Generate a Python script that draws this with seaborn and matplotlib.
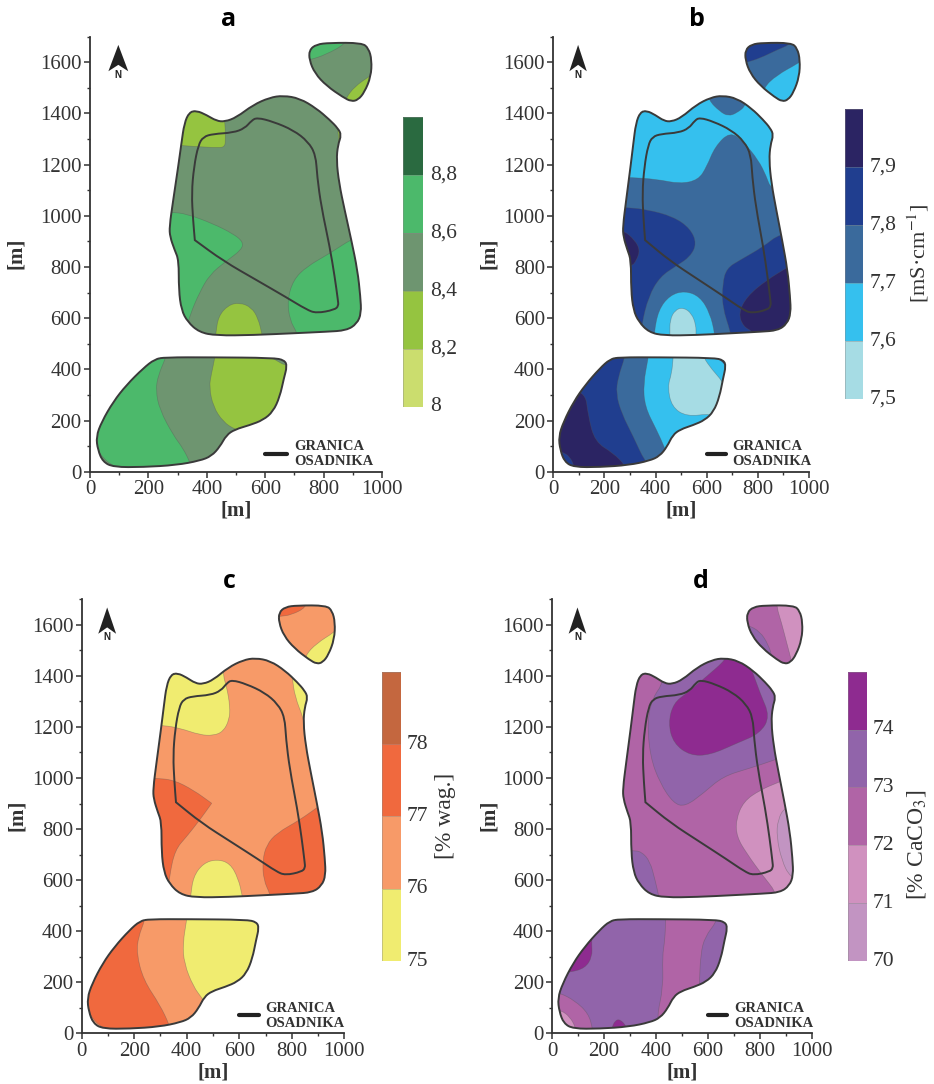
import numpy as np
import matplotlib
matplotlib.use('Agg')
import matplotlib.pyplot as plt
import seaborn as sns
from matplotlib.colors import ListedColormap
from matplotlib.patches import PathPatch
from matplotlib.path import Path
from matplotlib.ticker import MultipleLocator

# granice zbiornikow [m]
MAIN = [(365,1411),(399,1394),(433,1371),(462,1368),(502,1385),(558,1433),(615,1462),(661,1470),(718,1459),(775,1420),
        (821,1375),(849,1342),(861,1316),(849,1277),(844,1218),(853,1127),(872,1023),(895,905),(916,788),(926,684),
        (929,619),(914,578),(878,552),(810,547),(696,541),(559,534),(433,532),(374,545),(334,586),(313,632),
        (304,710),(304,827),(290,866),(274,918),(272,958),(285,1062),(302,1192),(313,1283),(323,1362),(340,1405)]
LOWER = [(257,447),(411,447),(627,445),(666,436),(675,413),(664,365),(650,293),(627,235),(593,202),(547,182),
         (496,165),(467,143),(445,98),(416,61),(376,43),(296,26),(182,18),(80,18),(44,39),(27,85),
         (21,137),(40,195),(80,274),(125,339),(182,404),(222,440)]
UPPER = [(751,1648),(775,1670),(821,1676),(931,1676),(954,1655),(965,1609),(962,1544),(940,1483),(918,1453),(895,1447),
         (867,1463),(810,1508),(770,1557),(751,1609)]
POND = [(359,905),(359,905),(353,984),(348,1088),(356,1192),(371,1277),(388,1309),(422,1320),(490,1325),(530,1342),
        (553,1372),(572,1384),(627,1368),(696,1335),(747,1290),(773,1238),(778,1153),(792,1036),(821,879),(838,762),
        (849,671),(851,648),(838,633),(775,619),(741,634),(673,681),(570,749),(456,824)]
NORTH = [(97,1668),(131,1565),(97,1590),(63,1565)]

# a - pH
LEVELS_A = ['8', '8,2', '8,4', '8,6', '8,8']
COLORS_A = ['#CBDD6E', '#95C440', '#6E9570', '#4CB96B', '#2A6A40']
A_LOBE = [(260,1279),(370,1270),(440,1266),(462,1270),(464,1300),(462,1380),(440,1460),(260,1460)]
A_LEFT = [(240,1015),(279,1014),(330,1008),(420,970),(490,930),(524,899),(520,868),(464,821),(410,770),(375,700),(345,620),(330,560),(230,560),(220,800)]
A_RIGHT = [(895,909),(821,853),(741,801),(696,749),(676,671),(684,593),(709,543),(720,500),(990,500),(990,960)]
A_BOTTOM = [(431,538),(439,606),(473,651),(513,661),(553,642),(576,599),(589,538),(595,500),(425,500)]
A_SLIVER = [(846,1345),(852,1310),(850,1270),(880,1270),(880,1345)]
A_UP_TOP = [(753,1609),(810,1631),(878,1674),(878,1710),(720,1710),(720,1605)]
A_UP_BOT = [(876,1459),(906,1505),(958,1546),(990,1570),(990,1430),(870,1430)]
A_LO_LEFT = [(260,447),(234,378),(225,319),(239,241),(285,143),(319,91),(344,33),(350,0),(0,0),(0,460),(262,470)]
A_LO_RIGHT = [(428,470),(428,447),(416,384),(408,332),(422,254),(456,195),(496,165),(560,140),(700,150),(720,430),(673,411),(633,439),(616,446),(616,470)]

# b - przewodnosc
LEVELS_B = ['7,5', '7,6', '7,7', '7,8', '7,9']
COLORS_B = ['#A6DCE4', '#35C0EE', '#3A6A9C', '#203E8F', '#2B2463']
B_CYAN = [(260,1150),(302,1150),(404,1143),(495,1125),(567,1140),(600,1192),(632,1270),(691,1329),(743,1290),(802,1218),(834,1153),(850,1107),(900,1100),(900,1500),(260,1500)]
B_TOP = [(606,1453),(652,1407),(684,1390),(717,1401),(756,1433),(756,1500),(606,1500)]
B_LEFT = [(240,1033),(280,1033),(365,1025),(469,997),(535,951),(561,892),(535,840),(482,805),(417,762),(372,684),(345,573),(340,500),(240,500)]
B_LEFT2 = [(240,942),(276,942),(319,905),(339,866),(326,827),(306,801),(240,800)]
B_MID = [(394,541),(411,632),(456,690),(515,707),(574,684),(613,619),(632,538),(632,500),(394,500)]
B_MID2 = [(456,538),(456,593),(476,632),(508,642),(541,619),(558,573),(558,534),(558,500),(456,500)]
B_RIGHT = [(887,932),(821,879),(730,827),(678,795),(662,736),(661,645),(694,543),(700,500),(990,500),(990,932)]
B_RIGHT2 = [(918,799),(834,749),(756,684),(724,619),(743,567),(782,547),(790,500),(990,500),(990,850)]
B_UP_TOP = [(754,1599),(808,1616),(874,1648),(932,1672),(932,1710),(720,1710),(720,1590)]
B_UP_BOT = [(819,1498),(874,1550),(958,1596),(990,1620),(990,1430),(819,1430)]
B_LO_DARK = [(124,319),(137,215),(163,117),(235,72),(280,26),(290,0),(0,0),(0,319)]
B_LO_SMALL = [(33,78),(65,59),(82,20),(82,0),(0,0),(0,90)]
B_LO_STEEL = [(280,470),(280,447),(254,371),(245,306),(267,228),(313,137),(358,39),(400,0),(720,0),(720,470)]
B_LO_CYAN = [(372,470),(372,447),(352,345),(358,254),(404,163),(437,91),(470,0),(720,0),(720,470)]
B_LO_PALE = [(469,470),(469,447),(463,384),(447,332),(463,254),(521,215),(620,228),(650,200),(690,300),(660,355),(620,400),(587,447),(587,470)]

# c - wilgotnosc
LEVELS_C = ['75', '76', '77', '78']
COLORS_C = ['#F0EC70', '#F79A68', '#F0693E', '#C4673F']
C_YEL = [(260,1206),(313,1206),(374,1195),(450,1169),(501,1166),(539,1182),(562,1228),(565,1280),(552,1358),(539,1398),(539,1460),(260,1460)]
C_YEL2 = [(800,1420),(802,1391),(812,1319),(844,1234),(844,1220),(900,1220),(900,1420)]
C_LEFT = [(240,999),(279,999),(349,993),(425,953),(495,901),(495,901),(450,836),(400,771),(355,718),(334,614),(330,560),(240,560)]
C_RIGHT = [(901,888),(831,836),(742,784),(704,738),(689,679),(692,601),(719,542),(725,500),(990,500),(990,950)]
C_BOTTOM = [(415,538),(425,614),(463,666),(514,682),(565,666),(596,607),(612,538),(615,500),(410,500)]
C_UP_TOP = [(755,1633),(799,1639),(856,1669),(856,1710),(720,1710),(720,1630)]
C_UP_BOT = [(850,1479),(895,1528),(962,1571),(990,1600),(990,1430),(850,1430)]
C_LO_LEFT = [(241,470),(241,444),(216,379),(209,313),(235,209),(298,111),(334,33),(340,0),(0,0),(0,470)]
C_LO_RIGHT = [(400,470),(400,444),(385,353),(390,274),(425,183),(459,137),(480,100),(720,100),(720,470)]

# d - CaCO3
LEVELS_D = ['70', '71', '72', '73', '74']
COLORS_D = ['#C294C2', '#D091BF', '#B064A6', '#9164AA', '#8E2B90']
D_VIOLET = [(428,1500),(428,1371),(389,1319),(366,1228),(377,1084),(415,980),(467,901),(512,888),(582,940),(657,1006),(760,1038),(859,1071),(900,1090),(900,1500)]
D_DARK = [(672,1500),(672,1466),(595,1398),(518,1332),(467,1293),(447,1215),(467,1136),(531,1088),(608,1090),(711,1136),(801,1175),(839,1241),(801,1332),(769,1424),(737,1500)]
D_LIGHT = [(878,986),(801,953),(737,908),(708,836),(711,770),(749,705),(814,614),(861,555),(870,500),(990,500),(990,1030)]
D_PALE = [(897,888),(869,836),(865,770),(884,679),(916,611),(990,580),(990,920)]
D_CORNER = [(306,716),(344,712),(377,673),(396,601),(411,536),(415,500),(240,500),(240,716)]
D_UP_RIGHT = [(865,1710),(865,1669),(884,1607),(904,1528),(923,1456),(923,1430),(990,1430),(990,1710)]
D_UP_LEFT = [(752,1600),(801,1574),(833,1522),(848,1473),(848,1430),(720,1430),(720,1600)]
D_LO_MID = [(437,470),(437,444),(434,366),(424,300),(428,183),(402,59),(420,0),(720,0),(720,470)]
D_LO_RIGHT = [(634,470),(634,438),(589,379),(572,313),(567,196),(567,150),(720,150),(720,470)]
D_LO_BLOB = [(152,400),(152,350),(154,300),(126,255),(68,239),(40,239),(40,400)]
D_LO_BOT = [(229,0),(229,20),(242,50),(261,55),(287,26),(287,0)]
D_LO_LEFT = [(27,159),(87,128),(139,78),(155,20),(155,0),(0,0),(0,159)]
D_LO_CORNER = [(32,91),(68,65),(91,20),(91,0),(0,0),(0,91)]

# (ksztalt, indeks koloru, strefa)
ZONES_A = [('main',1,A_LOBE),('main',3,A_LEFT),('main',3,A_RIGHT),('main',1,A_BOTTOM),('main',1,A_SLIVER),
           ('upper',3,A_UP_TOP),('upper',1,A_UP_BOT),('lower',3,A_LO_LEFT),('lower',1,A_LO_RIGHT)]
ZONES_B = [('main',1,B_CYAN),('main',2,B_TOP),('main',3,B_LEFT),('main',4,B_LEFT2),('main',1,B_MID),('main',0,B_MID2),
           ('main',3,B_RIGHT),('main',4,B_RIGHT2),('upper',3,B_UP_TOP),('upper',1,B_UP_BOT),('lower',4,B_LO_DARK),
           ('lower',3,B_LO_SMALL),('lower',2,B_LO_STEEL),('lower',1,B_LO_CYAN),('lower',0,B_LO_PALE)]
ZONES_C = [('main',0,C_YEL),('main',0,C_YEL2),('main',2,C_LEFT),('main',2,C_RIGHT),('main',0,C_BOTTOM),
           ('upper',2,C_UP_TOP),('upper',0,C_UP_BOT),('lower',2,C_LO_LEFT),('lower',0,C_LO_RIGHT)]
ZONES_D = [('main',3,D_VIOLET),('main',4,D_DARK),('main',1,D_LIGHT),('main',0,D_PALE),('main',3,D_CORNER),
           ('upper',1,D_UP_RIGHT),('upper',3,D_UP_LEFT),('lower',2,D_LO_MID),('lower',3,D_LO_RIGHT),('lower',4,D_LO_BLOB),
           ('lower',4,D_LO_BOT),('lower',2,D_LO_LEFT),('lower',1,D_LO_CORNER)]

W, H = 934, 1084
SERIF = 'Liberation Serif'
DARK = '#333333'

sns.set_style('ticks')
plt.rcParams['font.family'] = [SERIF, 'DejaVu Sans']
plt.rcParams['mathtext.fontset'] = 'stix'

fig = plt.figure(figsize=(W / 100, H / 100), dpi=100)


def box(x0, x1, top, bottom):
    return [x0 / W, 1 - bottom / H, (x1 - x0) / W, (bottom - top) / H]


def smooth(points):
    pts = np.array(points, dtype=float)
    nxt = np.roll(pts, -1, axis=0)
    mids = (pts + nxt) / 2
    verts, codes = [mids[-1]], [Path.MOVETO]
    for p, m in zip(pts, mids):
        verts += [p, m]
        codes += [Path.CURVE3, Path.CURVE3]
    return Path(verts, codes)


def draw_panel(pos, zones, colors, base):
    ax = fig.add_axes(box(*pos))
    shapes = {'main': MAIN, 'lower': LOWER, 'upper': UPPER}
    clips = {}
    for name, pts in shapes.items():
        clips[name] = PathPatch(smooth(pts), fc=colors[base[name]], ec='none', zorder=1)
        ax.add_patch(clips[name])
    for name, c, pts in zones:
        p = PathPatch(smooth(pts), fc=colors[c], ec='#55555566', lw=0.5, zorder=2)
        ax.add_patch(p)
        p.set_clip_path(clips[name])
    for pts in shapes.values():
        ax.add_patch(PathPatch(smooth(pts), fc='none', ec='#3a3a3a', lw=1.4, zorder=3))
    ax.add_patch(PathPatch(smooth(POND), fc='none', ec='#3a3a3a', lw=1.4, zorder=4))

    ax.fill(*zip(*NORTH), color='#222222', lw=0, zorder=5)
    ax.text(97, 1552, 'N', fontsize=7, fontweight='bold', family='Liberation Sans', color='#222222', ha='center', va='center')
    ax.plot([600, 675], [70, 70], color='#222222', lw=3, solid_capstyle='round', zorder=5)
    ax.text(700, 98, 'GRANICA', fontsize=10.5, fontweight='bold', color=DARK, va='center')
    ax.text(700, 38, 'OSADNIKA', fontsize=10.5, fontweight='bold', color=DARK, va='center')

    ax.set_xlim(0, 1000)
    ax.set_ylim(0, 1700)
    ax.xaxis.set_major_locator(MultipleLocator(200))
    ax.xaxis.set_minor_locator(MultipleLocator(100))
    ax.yaxis.set_major_locator(MultipleLocator(200))
    ax.yaxis.set_minor_locator(MultipleLocator(100))
    ax.tick_params(which='major', length=4, width=1.1, color=DARK, labelcolor=DARK, labelsize=15, pad=2)
    ax.tick_params(which='minor', length=2.5, width=1.0, color=DARK)
    sns.despine(ax=ax)
    for s in ['left', 'bottom']:
        ax.spines[s].set_linewidth(1.3)
        ax.spines[s].set_color(DARK)
    ax.patch.set_alpha(0)
    return ax


def draw_scale(pos, levels, colors, label_x):
    cax = fig.add_axes(box(*pos))
    n = len(colors)
    cells = np.arange(n)[::-1].reshape(-1, 1)
    sns.heatmap(cells, cmap=ListedColormap(colors), cbar=False, ax=cax, xticklabels=False,
                linewidths=0.4, linecolor='#88888866')
    cax.set_yticks(np.arange(1, n + 1) if len(levels) == n else [])
    cax.set_yticklabels(levels[::-1], rotation=0, fontsize=15.5, color=DARK)
    cax.yaxis.tick_right()
    cax.tick_params(axis='y', length=0, pad=(label_x - pos[1]) * 0.72)
    for lab in cax.get_yticklabels():
        lab.set_va('center')
    for s in cax.spines.values():
        s.set_visible(False)
    cax.set_xlabel('')
    cax.set_ylabel('')
    return cax


panels = [
    ((90, 382, 36.7, 471.7), ZONES_A, COLORS_A, {'main': 2, 'lower': 2, 'upper': 2}),
    ((553.3, 809, 36.7, 471.7), ZONES_B, COLORS_B, {'main': 2, 'lower': 3, 'upper': 2}),
    ((81.7, 344.3, 599.3, 1033.3), ZONES_C, COLORS_C, {'main': 1, 'lower': 1, 'upper': 1}),
    ((552.3, 811.7, 599.3, 1033.3), ZONES_D, COLORS_D, {'main': 2, 'lower': 3, 'upper': 2}),
]
for pos, zones, colors, base in panels:
    draw_panel(pos, zones, colors, base)

draw_scale((402.7, 423.3, 116.7, 406.7), LEVELS_A, COLORS_A, 430)
draw_scale((845, 863.3, 109.3, 399), LEVELS_B, COLORS_B, 870)
draw_scale((381.7, 400.7, 671.7, 961), LEVELS_C, COLORS_C, 406.7)
draw_scale((848.3, 866.7, 671.7, 961), LEVELS_D, COLORS_D, 872.7)


def put(x, y, s, **kw):
    fig.text(x / W, 1 - y / H, s, ha='center', va='center', **kw)


for x, y, s in [(229, 20, 'a'), (697, 20, 'b'), (229, 582, 'c'), (701, 582, 'd')]:
    put(x, y, s, fontsize=18, fontweight='bold', family='Open Sans', color='black')
for x, y in [(236, 511), (681, 511), (213, 1072), (682, 1072)]:
    put(x, y, '[m]', fontsize=15, fontweight='bold', color=DARK)
for x, y in [(16, 253), (489, 253), (17, 815), (489, 815)]:
    put(x, y, '[m]', fontsize=15, fontweight='bold', color=DARK, rotation=90)
put(918, 253, r'[mS·cm$^{-1}$]', fontsize=16, color=DARK, rotation=90)
put(446, 816, '[% wag.]', fontsize=17, color=DARK, rotation=90)
put(916, 845, r'[% CaCO$_3$]', fontsize=17, color=DARK, rotation=90)

fig.savefig('out.png', dpi=100, facecolor='white')
